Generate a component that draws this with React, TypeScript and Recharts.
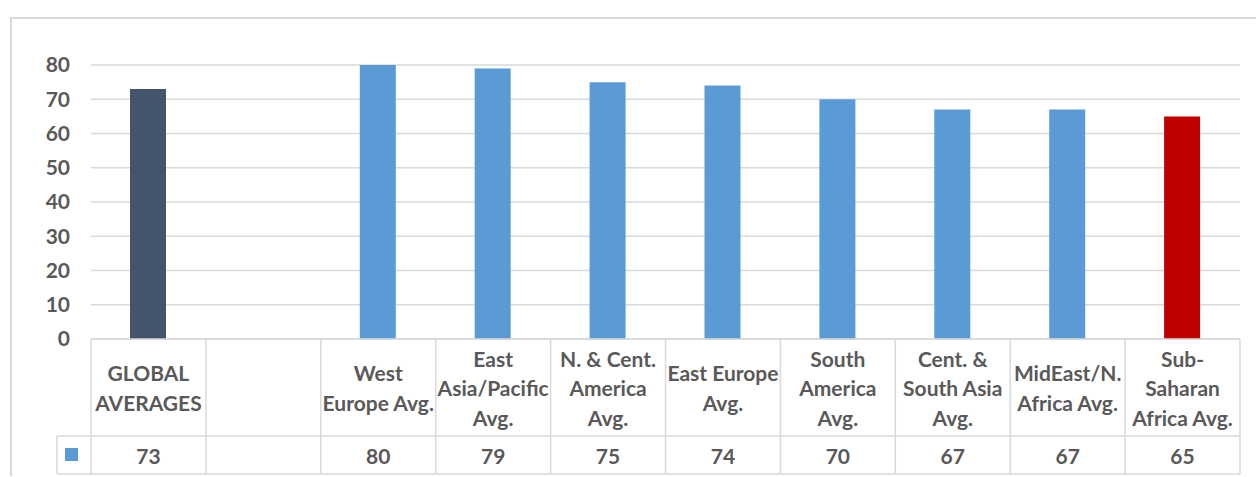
import React from 'react'
import { BarChart, Bar, XAxis, YAxis, CartesianGrid, Cell } from 'recharts'

const categories = [
  'GLOBAL\nAVERAGES',
  '',
  'West\nEurope Avg.',
  'East\nAsia/Pacific\nAvg.',
  'N. & Cent.\nAmerica\nAvg.',
  'East Europe\nAvg.',
  'South\nAmerica\nAvg.',
  'Cent. &\nSouth Asia\nAvg.',
  'MidEast/N.\nAfrica Avg.',
  'Sub-\nSaharan\nAfrica Avg.',
]
const values: Array<number | null> = [73, null, 80, 79, 75, 74, 70, 67, 67, 65]
const barColors = ['#44546a', '#5b9bd5', '#5b9bd5', '#5b9bd5', '#5b9bd5', '#5b9bd5', '#5b9bd5', '#5b9bd5', '#5b9bd5', '#c00000']
const yTicks = [0, 10, 20, 30, 40, 50, 60, 70, 80]

const data = categories.map((name, i) => ({ key: `c${i}`, name, value: values[i] }))

const W = 1256
const H = 477
const PLOT_LEFT = 91
const PLOT_RIGHT = 1240
const PLOT_TOP = 65
const PLOT_BOTTOM = 339
const ROW_SPLIT = 436
const TABLE_BOTTOM = 474
const LEGEND_LEFT = 57
const Y_AXIS_W = 60
const bandW = (PLOT_RIGHT - PLOT_LEFT) / categories.length

const textColor = '#595959'
const lineColor = '#d9d9d9'
const font = 'Lato, "Open Sans", sans-serif'
const fontSize = 21

function TableTick(props: any) {
  const { x, payload } = props
  const i = payload.index
  const left = x - bandW / 2
  const right = x + bandW / 2
  const lines = String(categories[i]).split('\n').filter(Boolean)
  const lh = 29.5
  const mid = (PLOT_BOTTOM + ROW_SPLIT) / 2
  const v = values[i]
  return (
    <g>
      <line x1={left} x2={left} y1={PLOT_BOTTOM} y2={TABLE_BOTTOM} stroke={lineColor} strokeWidth={1.5} />
      {i === categories.length - 1 && (
        <line x1={right} x2={right} y1={PLOT_BOTTOM} y2={TABLE_BOTTOM} stroke={lineColor} strokeWidth={1.5} />
      )}
      <line x1={left} x2={right} y1={ROW_SPLIT} y2={ROW_SPLIT} stroke={lineColor} strokeWidth={1.5} />
      <line x1={left} x2={right} y1={TABLE_BOTTOM} y2={TABLE_BOTTOM} stroke={lineColor} strokeWidth={1.5} />
      {i === 0 && (
        <g>
          <line x1={LEGEND_LEFT} x2={LEGEND_LEFT} y1={ROW_SPLIT} y2={TABLE_BOTTOM} stroke={lineColor} strokeWidth={1.5} />
          <line x1={LEGEND_LEFT} x2={left} y1={ROW_SPLIT} y2={ROW_SPLIT} stroke={lineColor} strokeWidth={1.5} />
          <line x1={LEGEND_LEFT} x2={left} y1={TABLE_BOTTOM} y2={TABLE_BOTTOM} stroke={lineColor} strokeWidth={1.5} />
          <rect x={65} y={448} width={13} height={13} fill="#5b9bd5" />
        </g>
      )}
      {lines.map((ln, k) => (
        <text
          key={k}
          x={x}
          y={mid + (k - (lines.length - 1) / 2) * lh}
          textAnchor="middle"
          dominantBaseline="central"
          fill={textColor}
          fontFamily={font}
          fontWeight={700}
          fontSize={fontSize}
        >
          {ln}
        </text>
      ))}
      {v != null && (
        <text
          x={x}
          y={(ROW_SPLIT + TABLE_BOTTOM) / 2}
          textAnchor="middle"
          dominantBaseline="central"
          fill={textColor}
          fontFamily={font}
          fontWeight={700}
          fontSize={fontSize}
        >
          {v}
        </text>
      )}
    </g>
  )
}

export default function App() {
  return (
    <div style={{ position: 'absolute', left: 0, top: 0, width: W, height: H, background: '#fff', overflow: 'hidden' }}>
      <div
        style={{
          position: 'absolute',
          left: 10,
          top: 17,
          width: W,
          height: 459 - 17 + 17,
          borderTop: `2px solid ${lineColor}`,
          borderLeft: `2px solid ${lineColor}`,
          boxSizing: 'border-box',
        }}
      />
      <BarChart
        width={W}
        height={H}
        data={data}
        margin={{ top: PLOT_TOP, right: W - PLOT_RIGHT, bottom: H - PLOT_BOTTOM - 135, left: PLOT_LEFT - Y_AXIS_W }}
        style={{ position: 'absolute', left: 0, top: 0 }}
      >
        <CartesianGrid vertical={false} stroke={lineColor} strokeWidth={1.5} />
        <XAxis
          dataKey="key"
          height={135}
          axisLine={{ stroke: lineColor, strokeWidth: 1.5 }}
          tickLine={false}
          interval={0}
          tick={<TableTick />}
        />
        <YAxis
          width={Y_AXIS_W}
          domain={[0, 80]}
          ticks={yTicks}
          axisLine={false}
          tickLine={false}
          tickSize={6}
          tickMargin={15}
          tick={{ fill: textColor, fontFamily: font, fontWeight: 700, fontSize }}
        />
        <Bar dataKey="value" barSize={36} isAnimationActive={false}>
          {data.map((d, i) => (
            <Cell key={d.key} fill={barColors[i]} />
          ))}
        </Bar>
      </BarChart>
    </div>
  )
}
